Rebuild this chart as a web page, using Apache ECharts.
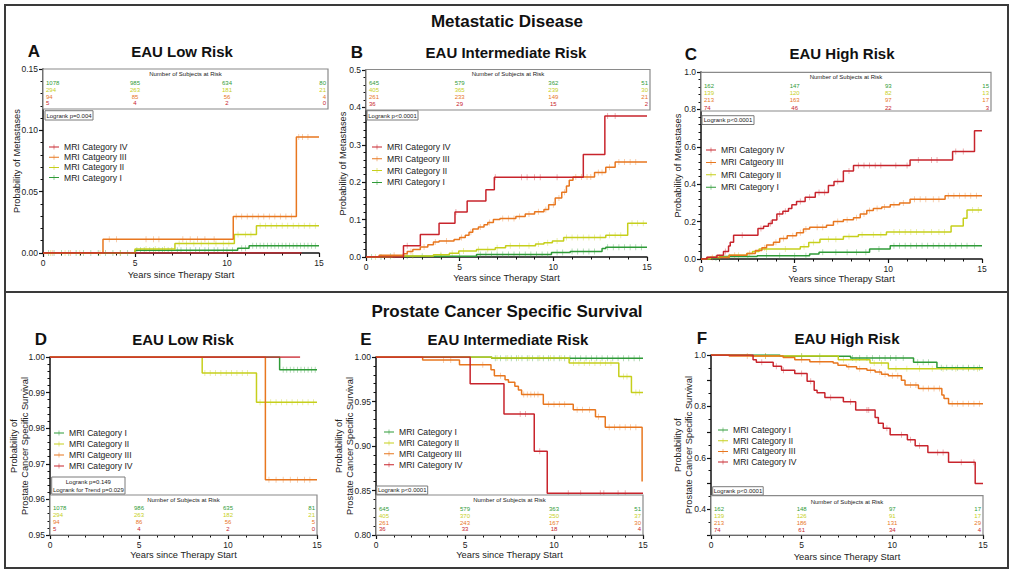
<!DOCTYPE html>
<html><head><meta charset="utf-8">
<script src="https://cdn.jsdelivr.net/npm/echarts@6/dist/echarts.min.js"></script>
<style>html,body{margin:0;padding:0;background:#fff}#c{width:1013px;height:574px}</style>
</head><body><div id="c"></div>
<script>
// ---------- names / colours ----------
const seriesNames = ['MRI Category I','MRI Category II','MRI Catgeory III','MRI Category IV'];
const colors = ['#2f9b38','#c6cf1c','#e8771f','#c8242c'];
const xTicks = [0,5,10,15];
const panelLetters = ['A','B','C','D','E','F'];
const panelTitles = ['EAU Low Risk','EAU Intermediate Risk','EAU High Risk','EAU Low Risk','EAU Intermediate Risk','EAU High Risk'];
const sectionTitles = ['Metastatic Disease','Prostate Cancer Specific Survival'];
const xName = 'Years since Therapy Start';
const yNames = ['Probability of Metastases','Probability of Metastases','Probability of Metastases',
  'Probability of\nProstate Cancer Specific Survival','Probability of\nProstate Cancer Specific Survival','Probability of\nProstate Cancer Specific Survival'];
const logrankTexts = [['Logrank p=0.004'],['Logrank p<0.0001'],['Logrank p<0.0001'],
  ['Logrank p=0.149','Logrank for Trend p=0.029'],['Logrank p<0.0001'],['Logrank p<0.0001']];
const riskHeader = 'Number of Subjects at Risk';

// ---------- curves [years, value] ----------
const aI   = [[0,0],[5.0,0.0023],[10.58,0.0038],[11.2,0.006],[15,0.006]];
const aII  = [[0,0],[5.0,0.0033],[7.17,0.0078],[10.4,0.015],[11.6,0.0222],[15,0.0222]];
const aIII = [[0,0],[3.26,0.0112],[10.34,0.0298],[13.77,0.0946],[15,0.0946]];
const aIV  = [[0,0],[14.05,0]];

const bI   = [[0,0],[1.0,0.002],[5.9,0.007],[9.9,0.012],[10.9,0.015],[12.6,0.023],[12.8,0.026],[15,0.026]];
const bII  = [[0,0],[1.4,0.003],[3.6,0.006],[4.45,0.010],[4.95,0.016],[5.9,0.020],[6.9,0.025],[7.45,0.030],[9.05,0.035],[9.5,0.038],[9.95,0.043],[10.55,0.052],[12.8,0.058],[13.97,0.09],[15,0.09]];
const bIII = [[0,0],[0.7,0.005],[2.0,0.009],[2.2,0.015],[2.5,0.020],[2.9,0.027],[3.3,0.033],[3.6,0.040],[3.9,0.043],[4.7,0.047],[5.0,0.052],[5.3,0.058],[5.5,0.066],[5.7,0.075],[6.0,0.080],[6.3,0.086],[6.5,0.092],[6.8,0.100],[7.15,0.103],[8.0,0.108],[8.5,0.115],[9.0,0.121],[9.5,0.127],[9.75,0.140],[10.1,0.158],[10.45,0.173],[10.7,0.19],[10.85,0.205],[11.05,0.214],[12.2,0.226],[12.8,0.240],[13.3,0.254],[15,0.254]];
const bIV  = [[0,0],[2.0,0.03],[2.9,0.06],[3.9,0.09],[4.75,0.12],[5.4,0.15],[6.4,0.18],[6.85,0.213],[11.6,0.274],[12.75,0.377],[15,0.377]];

const cI   = [[0,0],[0.3,0.005],[1.0,0.013],[3.0,0.018],[5.8,0.027],[6.3,0.036],[9.0,0.054],[10.1,0.071],[15,0.071]];
const cII  = [[0,0],[0.5,0.01],[1.5,0.02],[2.45,0.03],[2.75,0.04],[3.1,0.053],[5.3,0.066],[5.75,0.088],[6.35,0.105],[7.6,0.12],[8.4,0.13],[9.9,0.145],[13.35,0.177],[14.0,0.218],[14.2,0.2625],[15,0.2625]];
const cIII = [[0,0],[0.3,0.008],[1.5,0.02],[2.45,0.03],[2.9,0.045],[3.25,0.06],[3.5,0.075],[3.87,0.09],[4.2,0.11],[4.6,0.125],[5.1,0.14],[5.47,0.16],[5.8,0.17],[6.7,0.18],[7.07,0.20],[7.6,0.21],[8.14,0.22],[8.5,0.24],[8.85,0.26],[9.2,0.27],[9.65,0.278],[10.1,0.29],[10.6,0.30],[11.16,0.32],[13.03,0.338],[15,0.338]];
const cIV  = [[0,0],[0.32,0.01],[0.85,0.02],[1.2,0.04],[1.47,0.07],[1.56,0.09],[1.74,0.127],[3.04,0.163],[3.34,0.175],[3.6,0.19],[3.8,0.209],[4.05,0.24],[4.37,0.255],[4.67,0.27],[4.85,0.29],[5.1,0.307],[5.56,0.33],[6.1,0.355],[6.8,0.393],[7.1,0.414],[7.6,0.471],[8.14,0.50],[11.16,0.53],[13.43,0.575],[14.6,0.686],[15,0.686]];

const dI   = [[0,1],[12.9,0.9964],[15,0.9964]];
const dII  = [[0,1],[8.55,0.9955],[11.6,0.9873],[15,0.9873]];
const dIII = [[0,1],[12.1,0.9655],[15,0.9655]];
const dIV  = [[0,1],[14.05,1]];

const eI   = [[0,1],[6.5,0.9985],[15,0.9985]];
const eII  = [[0,1],[6.5,0.999],[10.85,0.9932],[13.64,0.978],[14.35,0.960],[15,0.960]];
const eIII = [[0,1],[2.62,0.9965],[4.69,0.9914],[6.46,0.9857],[6.65,0.979],[7.25,0.9745],[7.44,0.9715],[7.8,0.967],[8.0,0.963],[8.18,0.958],[9.4,0.947],[11.08,0.9407],[12.33,0.933],[12.88,0.921],[14.95,0.86]];
const eIV  = [[0,1],[5.29,0.97],[7.19,0.936],[8.89,0.894],[9.62,0.847],[15,0.847]];

const fI   = [[0,1],[3.8,0.995],[7.7,0.988],[11.17,0.972],[12.46,0.95],[15,0.95]];
const fII  = [[0,1],[2.2,0.996],[7.02,0.982],[8.77,0.969],[9.78,0.947],[15,0.947]];
const fIII = [[0,1],[1.0,0.996],[3.98,0.99],[4.62,0.982],[5.45,0.974],[6.74,0.969],[7.0,0.96],[7.48,0.954],[8.03,0.947],[8.6,0.941],[9.05,0.934],[9.4,0.925],[9.78,0.919],[10.5,0.902],[10.7,0.883],[11.44,0.87],[12.73,0.844],[12.85,0.831],[13.1,0.81],[15,0.81]];
const fIV  = [[0,1],[2.32,0.982],[2.5,0.972],[3.43,0.956],[3.89,0.941],[4.62,0.928],[5.3,0.898],[5.69,0.863],[5.85,0.853],[6.28,0.835],[7.3,0.818],[7.98,0.786],[9.05,0.757],[9.23,0.735],[9.5,0.715],[9.88,0.69],[10.83,0.67],[11.26,0.647],[11.96,0.621],[13.1,0.583],[14.57,0.50],[15,0.50]];

// ---------- censor times (years) ----------
const aIc   = [0.3,0.6,1.0,1.4,1.8,2.2,2.6,3.0,3.4,3.8,4.2,4.6,5.1,5.3,5.5,5.8,6.0,6.3,6.5,6.8,7.0,7.3,7.5,7.8,8.0,8.3,8.5,8.8,9.0,9.3,9.5,9.8,10.0,10.3,10.8,11.0,11.4,11.6,11.8,12.0,12.2,12.4,12.6,12.8,13.0,13.2,13.4,13.6,13.8,14.0,14.2,14.4,14.6,14.8];
const aIIc  = [0.4,1.2,2.0,3.1,4.2,5.6,6.1,6.6,7.4,7.8,8.2,8.6,9.0,9.4,9.8,10.1,10.6,11.0,11.3,11.8,12.1,12.4,12.7,13.0,13.3,13.6,13.9,14.2,14.5,14.8];
const aIIIc = [0.5,1.5,3.6,4.0,5.6,6.0,6.3,7.6,8.0,8.4,8.8,9.3,10.5,10.8,11.1,11.4,11.7,12.0,12.3,12.6,12.9,13.2,13.5,13.9,14.1,14.4];
const aIVc  = [];
const bIc   = [0.3,0.8,1.3,2.2,3.0,4.0,5.0,6.1,6.4,6.7,7.0,7.3,7.6,7.9,8.2,8.5,8.8,9.1,9.4,9.7,10.2,10.5,11.0,11.3,11.6,11.9,12.2,12.9,13.2,13.5,13.8,14.1,14.4,14.7];
const bIIc  = [0.5,2.5,4.0,4.6,5.2,6.0,6.5,7.0,7.7,8.2,8.7,9.2,9.7,10.2,10.7,11.0,11.3,11.6,11.9,12.2,12.5,13.0,13.3,13.6,14.2,14.5,14.8];
const bIIIc = [1.5,2.4,3.1,3.7,4.3,5.1,5.6,6.1,6.6,7.3,7.6,7.9,8.2,8.7,9.2,9.6,10.0,10.3,10.6,11.2,11.5,11.8,12.0,12.4,12.6,13.0,13.5,13.8,14.1,14.4];
const bIVc  = [2.2,4.8,6.9,8.3,8.6,9.0,9.3,10.2,12.9,13.3];
const cIc   = [0.8,1.5,2.5,3.5,4.2,5.0,5.6,6.5,7.2,7.8,8.3,8.8,9.5,10.3,10.6,10.9,11.2,11.5,11.8,12.1,12.4,12.7,13.0,13.3,13.6,13.9,14.2,14.6];
const cIIc  = [1.0,2.0,3.5,4.5,5.5,6.0,6.8,7.2,7.9,8.6,9.2,9.6,10.3,10.6,10.9,11.2,11.5,11.9,12.3,12.7,13.0,14.5,14.8];
const cIIIc = [0.6,1.8,2.6,3.4,4.0,4.4,4.9,5.3,5.6,6.2,6.5,7.3,7.8,8.3,8.7,9.0,9.4,9.8,10.3,10.8,11.4,11.7,12.0,12.4,12.7,13.2,13.5,13.8,14.1,14.4,14.7];
const cIVc  = [1.3,2.2,3.2,3.7,4.2,4.5,5.3,5.8,6.3,6.6,7.3,7.9,8.4,8.7,9.0,9.3,9.6,10.4,11.0,11.6,12.3,12.6,13.6,14.0];
const dIc   = [13.1,13.3,13.5,13.7,13.9,14.1,14.3,14.5,14.7,14.9];
const dIIc  = [8.7,9.0,9.3,9.6,9.9,10.2,10.5,10.8,11.1,11.8,12.1,12.4,12.7,13.0,13.3,13.6,13.9,14.2,14.5,14.8];
const dIIIc = [12.3,12.7,13.1,13.5,13.9,14.3,14.6];
const dIVc  = [];
const eIc   = [6.7,7.0,7.3,7.6,7.9,8.2,8.5,8.8,9.1,9.4,9.7,10.0,10.3,10.6,10.9,11.2,11.5,11.8,12.1,12.4,12.7,13.0,13.3,13.6,13.9,14.2,14.5,14.8];
const eIIc  = [6.8,7.4,8.0,8.6,9.2,9.8,10.4,11.1,11.4,11.7,12.0,12.3,12.6,12.9,13.2,13.9,14.1,14.6,14.8];
const eIIIc = [3.8,4.2,6.0,7.0,8.3,8.5,8.7,8.9,9.1,9.7,10.0,10.3,10.6,11.3,11.6,12.0,12.5,13.1,13.4,13.7,14.0,14.3,14.6];
const eIVc  = [8.1,8.4,9.2,10.8,11.5,12.6,12.8,13.6,14.0];
const fIc   = [5.0,6.0,7.8,8.2,8.6,8.9,9.3,9.6,9.9,10.2,10.6,11.4,11.7,12.0,12.7,13.0,13.3,13.6,13.9,14.2,14.5,14.8];
const fIIc  = [3.0,5.0,7.3,8.0,9.0,9.4,10.2,10.8,11.5,12.2,12.8,13.5,14.2,14.7];
const fIIIc = [2.0,3.0,5.0,6.0,7.6,8.2,8.8,9.3,9.6,10.0,10.3,11.0,11.3,11.7,12.0,12.3,12.6,13.3,13.6,13.9,14.2,14.5,14.8];
const fIVc  = [2.8,3.6,4.0,5.0,5.5,6.6,7.7,8.6,8.7,9.7,10.5,11.0,11.5,12.5,12.8,13.8,14.5];

// ---------- numbers at risk (rows: I, II, III, IV; columns at 0,5,10,15 y) ----------
const riskA = [[1078,985,634,80],[294,263,181,21],[94,85,56,4],[5,4,2,0]];
const riskB = [[645,579,362,51],[405,365,239,30],[261,233,149,21],[36,29,15,2]];
const riskC = [[162,147,93,15],[139,120,82,13],[213,163,97,17],[74,46,22,3]];
const riskD = [[1078,986,635,81],[294,263,182,21],[94,86,56,5],[5,4,2,0]];
const riskE = [[645,579,363,51],[405,370,250,37],[261,243,167,30],[36,33,18,4]];
const riskF = [[162,148,97,17],[139,126,91,17],[213,186,131,29],[74,61,34,4]];

// ---------- y-axis ranges ----------
const yMin = [0, 0, 0, 0.95, 0.80, 0.3];
const yMax = [0.15, 0.5, 1.0, 1.00, 1.00, 1.0];
const yStep = [0.05, 0.1, 0.2, 0.01, 0.05, 0.1];
const yDec = [2, 1, 1, 2, 2, 1];

// ---------- layout ----------
const FONT = '"Liberation Sans", Arial, sans-serif';
const grids = [
  {left:43, top:69, width:276, height:184},
  {left:366, top:70, width:281, height:187},
  {left:701, top:72, width:281, height:187},
  {left:50, top:357, width:267, height:178},
  {left:376, top:357, width:267, height:178},
  {left:711, top:355, width:272, height:180}
];
const yNameGap = [20.5, 17.5, 17.5, 20, 21, 17];
const xNameGap = [17, 16, 15, 15, 15, 17];
const legendPos = [
  {left:49, top:142, gap:0.2, order:[3,2,1,0]},
  {left:372, top:142, gap:1.8, order:[3,2,1,0]},
  {left:706, top:145, gap:2.4, order:[3,2,1,0]},
  {left:54, top:428, gap:1.0, order:[0,1,2,3]},
  {left:384, top:427, gap:0.9, order:[0,1,2,3]},
  {left:718, top:425, gap:0.7, order:[0,1,2,3]}
];
const riskBox = [
  {x:43, y:69, w:285, h:40, hy:74, ry:83.3, rg:6.7},
  {x:366, y:69.5, w:284, h:40.5, hy:74, ry:83.3, rg:6.9},
  {x:701, y:72.3, w:290, h:38.7, hy:77.3, ry:86, rg:7.2},
  {x:50, y:495, w:267, h:40, hy:499.5, ry:508.3, rg:7},
  {x:376, y:495, w:267, h:40, hy:500, ry:508.7, rg:6.9},
  {x:711, y:495.7, w:272, h:39.3, hy:501.7, ry:509.3, rg:6.9}
];
const lrBox = [
  {x:45, y:110.7, w:48, h:9.3},
  {x:367, y:110.7, w:51, h:9.3},
  {x:702, y:115.7, w:52, h:8.8},
  {x:51.7, y:477, w:73.3, h:17},
  {x:376.7, y:486, w:51, h:8.3},
  {x:712.7, y:486.7, w:50.5, h:8.3}
];
const letterPos = [[34,51],[357,52],[691,54],[41,339],[366,339],[702,338]];
const titlePos = [[182,51],[506,52],[842,53],[183,339],[508,339],[847,338]];
const sectionPos = [[507,21],[507,311]];

// ---------- build ----------
const curves = [[aI,aII,aIII,aIV],[bI,bII,bIII,bIV],[cI,cII,cIII,cIV],[dI,dII,dIII,dIV],[eI,eII,eIII,eIV],[fI,fII,fIII,fIV]];
const censors = [[aIc,aIIc,aIIIc,aIVc],[bIc,bIIc,bIIIc,bIVc],[cIc,cIIc,cIIIc,cIVc],[dIc,dIIc,dIIIc,dIVc],[eIc,eIIc,eIIIc,eIVc],[fIc,fIIc,fIIIc,fIVc]];
const risks = [riskA,riskB,riskC,riskD,riskE,riskF];

function kmAt(curve, t){ let v = curve[0][1]; for (const p of curve){ if (p[0] <= t) v = p[1]; else break; } return v; }

const axisLine = {show:true, onZero:false, lineStyle:{color:'#111', width:1.5}};
const xAxis = grids.map((g,i)=>({
  type:'value', gridIndex:i, min:0, max:15, interval:5,
  name:xName, nameLocation:'middle', nameGap:xNameGap[i], nameMoveOverlap:false,
  nameTextStyle:{fontSize:9.3, fontFamily:FONT, color:'#222'},
  axisLine:axisLine,
  axisTick:{show:true, length:4, lineStyle:{color:'#111', width:1.2}},
  minorTick:{show:true, splitNumber:5, length:2.5, lineStyle:{color:'#111', width:1}},
  axisLabel:{fontSize:8.5, fontFamily:FONT, color:'#222', margin:5},
  splitLine:{show:false}, minorSplitLine:{show:false}
}));
const yAxis = grids.map((g,i)=>({
  type:'value', gridIndex:i, min:yMin[i], max:yMax[i], interval:yStep[i],
  name:yNames[i], nameLocation:'middle', nameGap:yNameGap[i], nameMoveOverlap:false,
  nameTextStyle:{fontSize:9.3, fontFamily:FONT, color:'#222', lineHeight:11},
  axisLine:axisLine,
  axisTick:{show:true, length:4, lineStyle:{color:'#111', width:1.2}},
  minorTick:{show:true, splitNumber:(i===5?2:5), length:2.5, lineStyle:{color:'#111', width:1}},
  axisLabel:{fontSize:8.5, fontFamily:FONT, color:'#222', margin:5,
    formatter:function(v){ if (i===5){ const k=Math.round(v*10); if (k%2!==0) return ''; } return v.toFixed(yDec[i]); }},
  splitLine:{show:false}, minorSplitLine:{show:false}
}));

const series = [];
curves.forEach((set,pi)=>{
  set.forEach((c,ci)=>{
    series.push({type:'line', name:seriesNames[ci], xAxisIndex:pi, yAxisIndex:pi, data:c, step:'end',
      symbol:'none', showSymbol:false, z:3,
      lineStyle:{color:colors[ci], width:1.5}, itemStyle:{color:colors[ci]}, silent:true});
  });
});
censors.forEach((set,pi)=>{
  set.forEach((ts,ci)=>{
    series.push({type:'scatter', name:seriesNames[ci], xAxisIndex:pi, yAxisIndex:pi,
      data: ts.map(t=>[t, kmAt(curves[pi][ci], t)]),
      symbol:'rect', symbolSize:[0.8,6], z:2, silent:true,
      itemStyle:{color:colors[ci], opacity:0.45}});
  });
});

const legendIcon = 'path://M0,4.4L12,4.4L12,5.6L0,5.6Z M5.7,2L6.3,2L6.3,8L5.7,8Z';
const legend = legendPos.map((L,i)=>({
  orient:'vertical', left:L.left, top:L.top, padding:0, itemGap:L.gap,
  itemWidth:10, itemHeight:8, icon:legendIcon, selectedMode:false,
  textStyle:{fontSize:8.6, fontFamily:FONT, color:'#222', lineHeight:10},
  data:L.order.map(k=>seriesNames[k])
}));

const chart = echarts.init(document.getElementById('c'), null, {renderer:'svg'});
chart.setOption({
  animation:false,
  backgroundColor:'#fff',
  grid: grids.map(g=>Object.assign({outerBoundsMode:'none', containLabel:false}, g)),
  xAxis, yAxis, series, legend
});

function txt(x,y,s,opt){
  return {type:'text', x:x, y:y, silent:true, z:20,
    style:Object.assign({text:s, fontFamily:FONT, fontSize:6, fill:'#222', align:'center', verticalAlign:'middle',
      textAlign:'center', textVerticalAlign:'middle'}, opt||{})};
}
const g = [];
g.push({type:'rect', shape:{x:5,y:5,width:1003,height:563}, style:{fill:'none', stroke:'#3a3a3a', lineWidth:2}, silent:true, z:30});
g.push({type:'line', shape:{x1:5,y1:292,x2:1008,y2:292}, style:{stroke:'#3a3a3a', lineWidth:2}, silent:true, z:30});
sectionTitles.forEach((s,i)=>g.push(txt(sectionPos[i][0], sectionPos[i][1], s, {fontSize:17, fontWeight:'bold', fill:'#111'})));
panelLetters.forEach((s,i)=>g.push(txt(letterPos[i][0], letterPos[i][1], s, {fontSize:17, fontWeight:'bold', fill:'#111'})));
panelTitles.forEach((s,i)=>g.push(txt(titlePos[i][0], titlePos[i][1], s, {fontSize:15, fontWeight:'bold', fill:'#111'})));
risks.forEach((tab,i)=>{
  const b = riskBox[i];
  g.push({type:'rect', shape:{x:b.x, y:b.y, width:b.w, height:b.h}, style:{fill:'#fff', stroke:'#8a8a8a', lineWidth:1.2}, silent:true, z:10});
  g.push(txt(b.x + b.w/2, b.hy, riskHeader, {fontSize:6, fill:'#222'}));
  tab.forEach((row,r)=>{
    const y = b.ry + r*b.rg;
    row.forEach((v,k)=>{
      let x, al;
      if (k===0){ x = b.x + 3; al = 'left'; }
      else if (k===row.length-1){ x = b.x + b.w - 2; al = 'right'; }
      else { x = chart.convertToPixel({xAxisIndex:i}, xTicks[k]); al = 'center'; }
      g.push(txt(x, y, String(v), {fontSize:6, fill:colors[r], align:al, textAlign:al}));
    });
  });
  const lb = lrBox[i];
  g.push({type:'rect', shape:{x:lb.x, y:lb.y, width:lb.w, height:lb.h}, style:{fill:'#fff', stroke:'#7a7a7a', lineWidth:1}, silent:true, z:10});
  const lines = logrankTexts[i];
  lines.forEach((s,k)=>{
    const y = lb.y + lb.h*(k+0.5)/lines.length + 0.3;
    g.push(txt(lb.x + lb.w/2, y, s, {fontSize:6, fill:'#222'}));
  });
});
chart.setOption({graphic:{elements:g}});
</script></body></html>
